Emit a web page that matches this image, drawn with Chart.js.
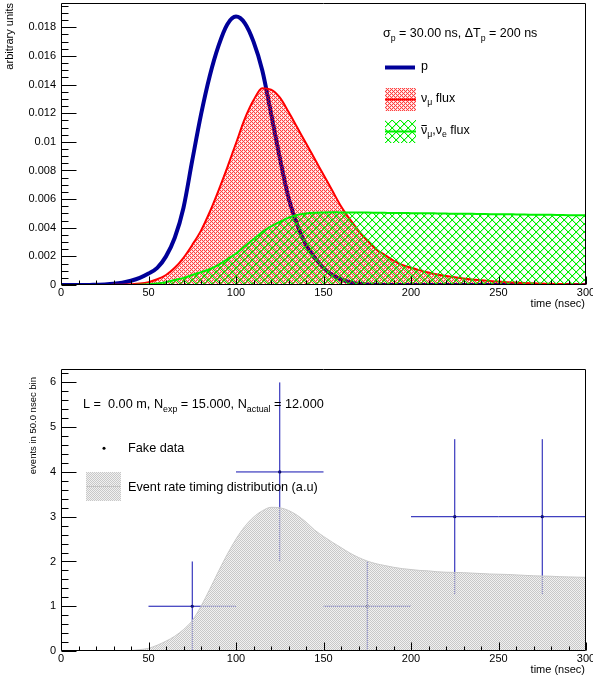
<!DOCTYPE html>
<html>
<head>
<meta charset="utf-8">
<script src="https://cdn.jsdelivr.net/npm/chart.js@4.4.1/dist/chart.umd.min.js"></script>
<style>
  html, body { margin: 0; padding: 0; background: #fff; }
  #wrap { position: relative; width: 593px; height: 680px; overflow: hidden; }
  .pane { position: absolute; left: 0; width: 593px; height: 340px; }
  #paneTop { top: 0; }
  #paneBottom { top: 340px; }
</style>
</head>
<body>
<div id="wrap">
  <div class="pane" id="paneTop"><canvas id="fluxChart" width="593" height="340"></canvas></div>
  <div class="pane" id="paneBottom"><canvas id="eventChart" width="593" height="340"></canvas></div>
</div>
<script>
// ---- time grid (ns) shared by all curves ----
const timeNs = [
  0, 5, 10, 15, 20, 25, 30, 35, 40, 45,
  50, 55, 60, 65, 70, 75, 80, 85, 90, 95,
  100, 105, 110, 115, 120, 125, 130, 135, 140, 145,
  150, 155, 160, 165, 170, 175, 180, 185, 190, 195,
  200, 205, 210, 215, 220, 225, 230, 235, 240, 245,
  250, 255, 260, 265, 270, 275, 280, 285, 290, 295,
  300
];

// proton pulse, arbitrary units
const protonFlux = [
  0, 0, 0, 0, 0.00002, 0.00004, 0.00008, 0.00016, 0.0003, 0.0005,
  0.0008, 0.0012, 0.0020, 0.0033, 0.0054, 0.0087, 0.0119, 0.0146, 0.0167, 0.0182,
  0.01875, 0.0183, 0.0170, 0.0150, 0.0120, 0.0089, 0.0061, 0.0042, 0.0028, 0.0019,
  0.0012, 0.0007, 0.0004, 0.0002, 0.00008, 0.00003, 0.00001, 0, 0, 0,
  0, 0, 0, 0, 0, 0, 0, 0, 0, 0,
  0, 0, 0, 0, 0, 0, 0, 0, 0, 0,
  0
];

// nu_mu flux
const numuFlux = [
  0, 0, 0, 0, 0, 0, 0.00001, 0.00002, 0.00005, 0.0001,
  0.0002, 0.0004, 0.0007, 0.0012, 0.0019, 0.0028, 0.0038, 0.0051, 0.0066, 0.0082,
  0.0099, 0.0116, 0.0129, 0.01375, 0.01365, 0.0131, 0.0121, 0.0110, 0.0099, 0.0088,
  0.0077, 0.0066, 0.0055, 0.0046, 0.0038, 0.0031, 0.0025, 0.0021, 0.0017, 0.0014,
  0.0012, 0.00103, 0.00087, 0.00074, 0.00063, 0.00054, 0.00046, 0.00039, 0.00033, 0.00028,
  0.00024, 0.0002, 0.00017, 0.00014, 0.00012, 0.0001, 0.00008, 0.00007, 0.00006, 0.00005,
  0.00004
];

// anti-nu_mu + nu_e flux
const nubarFlux = [
  0, 0, 0, 0, 0, 0, 0, 0, 0, 0.00002,
  0.00005, 0.0001, 0.0002, 0.00035, 0.0005, 0.0007, 0.0009, 0.0011, 0.0014, 0.0018,
  0.0022, 0.0027, 0.0032, 0.0037, 0.0041, 0.0044, 0.0047, 0.0049, 0.0050, 0.00505,
  0.00507, 0.00508, 0.00507, 0.00507, 0.00506, 0.00506, 0.00505, 0.00504, 0.00503, 0.00503,
  0.00502, 0.00501, 0.00501, 0.0050, 0.00499, 0.00498, 0.00498, 0.00497, 0.00496, 0.00495,
  0.00494, 0.00494, 0.00493, 0.00492, 0.00491, 0.0049, 0.0049, 0.00489, 0.00488, 0.00488,
  0.00487
];

// expected event rate per 50 ns bin (a.u.)
const eventRate = [
  0, 0, 0, 0, 0, 0, 0, 0, 0.01, 0.03,
  0.06, 0.13, 0.22, 0.33, 0.48, 0.68, 1.0, 1.38, 1.78, 2.16,
  2.5, 2.78, 2.99, 3.13, 3.21, 3.2, 3.14, 3.03, 2.88, 2.7,
  2.56, 2.43, 2.31, 2.19, 2.09, 2.01, 1.95, 1.91, 1.87, 1.84,
  1.82, 1.8, 1.79, 1.77, 1.76, 1.755, 1.75, 1.74, 1.73, 1.72,
  1.715, 1.71, 1.7, 1.69, 1.68, 1.675, 1.67, 1.66, 1.655, 1.65,
  1.645
];

// fake data, 50 ns bins
const binCenters   = [75, 125, 175, 225, 275];
const binHalfWidth = [25, 25, 25, 25, 25];
const eventCounts  = [1, 4, 1, 3, 3];
const countErrors  = [1, 2, 1, 1.732, 1.732];

const expectedEvents = 15;
const baselineM = 0;

// tick layout
const fluxTicks  = { xMinor: 10, xPerMajor: 5, yMinor: 0.0005, yPerMajor: 4 };
const eventTicks = { xMinor: 10, xPerMajor: 5, yMinor: 0.2, yPerMajor: 5 };

// -------------------------------------------------------------
const FONT = '"Liberation Sans", Arial, Helvetica, sans-serif';

function toXY(xs, ys) { return xs.map((x, i) => ({ x, y: ys[i] })); }

function tilePattern(size, paint) {
  const tile = document.createElement('canvas');
  tile.width = size; tile.height = size;
  const g = tile.getContext('2d');
  const img = g.createImageData(size, size);
  for (let y = 0; y < size; y++) {
    for (let x = 0; x < size; x++) {
      const c = paint(x, y);
      if (!c) continue;
      const i = (y * size + x) * 4;
      img.data[i] = c[0]; img.data[i + 1] = c[1]; img.data[i + 2] = c[2]; img.data[i + 3] = c[3];
    }
  }
  g.putImageData(img, 0, 0);
  return g.createPattern(tile, 'repeat');
}

// dense red dither with small white holes
const redHatch = tilePattern(4, (x, y) => {
  if ((x === 1 && y === 1) || (x === 3 && y === 3)) return null;
  return (x + y) % 2 === 0 ? [255, 0, 0, 190] : [255, 0, 0, 45];
});
// diagonal cross-hatch, slightly softened edges
const greenHatch = tilePattern(8, (x, y) => {
  if (x === y || x === 7 - y) return [0, 240, 0, 255];
  if (x === (y + 1) % 8 || x === (8 - y) % 8) return [0, 230, 0, 70];
  return null;
});
// light grey dither
const greyHatch = tilePattern(2, (x, y) => ((x + y) % 2 === 0 ? [200, 200, 200, 255] : [225, 225, 225, 120]));

// text with sub-scripts and over-bars drawn along one baseline
function richText(ctx, x, y, parts, size, color) {
  let cx = x;
  ctx.fillStyle = color || '#000';
  ctx.textAlign = 'left';
  ctx.textBaseline = 'alphabetic';
  for (const p of parts) {
    const s = p.sub ? size * 0.7 : size;
    ctx.font = s + 'px ' + FONT;
    const dy = p.sub ? size * 0.3 : 0;
    ctx.fillText(p.t, cx, y + dy);
    const w = ctx.measureText(p.t).width;
    if (p.bar) {
      ctx.save();
      ctx.strokeStyle = color || '#000';
      ctx.lineWidth = 1;
      ctx.beginPath();
      const by = Math.round(y - size * 0.7) + 0.5;
      ctx.moveTo(cx + 0.5, by); ctx.lineTo(cx + w - 0.5, by);
      ctx.stroke();
      ctx.restore();
    }
    cx += w;
  }
  return cx;
}

function drawFrameAndTicks(chart, t, lens) {
  const { ctx, chartArea: a } = chart;
  const xs = chart.scales.x, ys = chart.scales.y;
  ctx.save();
  ctx.strokeStyle = '#000';
  ctx.lineWidth = 1;
  const L = Math.round(a.left) + 0.5, R = Math.round(a.right) - 0.5;
  const T = Math.round(a.top) + 0.5, B = Math.round(a.bottom) - 0.5;
  ctx.beginPath();
  ctx.rect(L, T, R - L, B - T);
  ctx.stroke();
  ctx.beginPath();
  const nx = Math.round((xs.max - xs.min) / t.xMinor);
  for (let i = 0; i <= nx; i++) {
    const px = Math.round(xs.getPixelForValue(xs.min + i * t.xMinor)) + 0.5;
    const len = i % t.xPerMajor === 0 ? lens.xMajor : lens.xMinor;
    ctx.moveTo(px, B); ctx.lineTo(px, B - len);
  }
  const ny = Math.floor((ys.max - ys.min) / t.yMinor + 1e-6);
  for (let i = 0; i <= ny; i++) {
    const py = Math.round(ys.getPixelForValue(ys.min + i * t.yMinor)) + 0.5;
    const len = i % t.yPerMajor === 0 ? lens.yMajor : lens.yMinor;
    ctx.moveTo(L, py); ctx.lineTo(L + len, py);
  }
  ctx.stroke();
  ctx.restore();
}

function axisTitles(chart, yTitle, ySize, yX, yEnd, xBase) {
  const { ctx, chartArea: a } = chart;
  ctx.save();
  ctx.fillStyle = '#000';
  ctx.font = ySize + 'px ' + FONT;
  ctx.translate(yX, yEnd);
  ctx.rotate(-Math.PI / 2);
  ctx.textAlign = 'right';
  ctx.textBaseline = 'middle';
  ctx.fillText(yTitle, 0, 0);
  ctx.restore();
  ctx.save();
  ctx.fillStyle = '#000';
  ctx.font = '11px ' + FONT;
  ctx.textAlign = 'right';
  ctx.textBaseline = 'alphabetic';
  ctx.fillText('time (nsec)', a.right - 1, xBase);
  ctx.restore();
}

function baseScales(yMax, yStep, fmt, xHeight) {
  return {
    x: {
      type: 'linear', min: 0, max: 300,
      grid: { display: false, drawTicks: false },
      border: { display: false },
      ticks: { stepSize: 50, includeBounds: false, autoSkip: false, maxRotation: 0, padding: 1,
               color: '#000', font: { family: FONT, size: 11 } },
      afterFit(s) { s.height = xHeight; s.paddingLeft = 0; s.paddingRight = 0; }
    },
    y: {
      type: 'linear', min: 0, max: yMax,
      grid: { display: false, drawTicks: false },
      border: { display: false },
      ticks: { stepSize: yStep, includeBounds: false, autoSkip: false, padding: 5,
               color: '#000', font: { family: FONT, size: 11 }, callback: fmt },
      afterFit(s) { s.width = 61; s.paddingTop = 0; s.paddingBottom = 0; }
    }
  };
}

// ---------------- neutrino flux panel ----------------
const fluxDecor = {
  id: 'fluxDecor',
  afterDraw(chart) {
    const ctx = chart.ctx;
    drawFrameAndTicks(chart, fluxTicks, { xMajor: 8, xMinor: 4, yMajor: 15, yMinor: 7 });
    axisTitles(chart, 'arbitrary units', 11, 10, 3, 307);

    const size = 12.5;
    richText(ctx, 383, 37, [
      { t: 'σ' }, { t: 'p', sub: true }, { t: ' = 30.00 ns, ΔT' }, { t: 'p', sub: true }, { t: ' = 200 ns' }
    ], size);

    ctx.save();
    ctx.strokeStyle = '#000099'; ctx.lineWidth = 4;
    ctx.beginPath(); ctx.moveTo(385, 67.5); ctx.lineTo(415, 67.5); ctx.stroke();
    ctx.restore();
    richText(ctx, 421, 70, [{ t: 'p' }], size);

    ctx.save();
    ctx.fillStyle = redHatch; ctx.fillRect(385, 88, 31, 23);
    ctx.strokeStyle = '#ff0000'; ctx.lineWidth = 2;
    ctx.beginPath(); ctx.moveTo(385, 99.5); ctx.lineTo(416, 99.5); ctx.stroke();
    ctx.restore();
    richText(ctx, 421, 101.5, [{ t: 'ν' }, { t: 'μ', sub: true }, { t: ' flux' }], size);

    ctx.save();
    ctx.fillStyle = greenHatch; ctx.fillRect(385, 120, 31, 23);
    ctx.strokeStyle = '#00f000'; ctx.lineWidth = 2;
    ctx.beginPath(); ctx.moveTo(385, 131.5); ctx.lineTo(416, 131.5); ctx.stroke();
    ctx.restore();
    richText(ctx, 421, 133.5, [
      { t: 'ν', bar: true }, { t: 'μ', sub: true }, { t: ',ν' }, { t: 'e', sub: true }, { t: ' flux' }
    ], size);
  }
};

new Chart(document.getElementById('fluxChart'), {
  type: 'line',
  data: {
    datasets: [
      { label: 'p', data: toXY(timeNs, protonFlux), borderColor: '#000099', borderWidth: 4,
        pointRadius: 0, fill: false, cubicInterpolationMode: 'monotone', order: 3 },
      { label: 'numu', data: toXY(timeNs, numuFlux), borderColor: '#ff0000', borderWidth: 2,
        backgroundColor: redHatch, fill: 'origin', pointRadius: 0,
        cubicInterpolationMode: 'monotone', order: 2 },
      { label: 'nubar', data: toXY(timeNs, nubarFlux), borderColor: '#00f000', borderWidth: 2,
        backgroundColor: greenHatch, fill: 'origin', pointRadius: 0,
        cubicInterpolationMode: 'monotone', order: 1 }
    ]
  },
  options: {
    responsive: false, animation: false, events: [],
    layout: { padding: { top: 3, right: 7, bottom: 0, left: 0 } },
    plugins: { legend: { display: false }, tooltip: { enabled: false } },
    scales: baseScales(0.0197, 0.002, v => String(+v.toFixed(4)), 55)
  },
  plugins: [fluxDecor]
});

// ---------------- event timing panel ----------------
const errorSegments = [];
binCenters.forEach((c, i) => {
  errorSegments.push({ x: c - binHalfWidth[i], y: eventCounts[i] });
  errorSegments.push({ x: c + binHalfWidth[i], y: eventCounts[i] });
  errorSegments.push({ x: c + binHalfWidth[i], y: null });
  errorSegments.push({ x: c, y: eventCounts[i] - countErrors[i] });
  errorSegments.push({ x: c, y: eventCounts[i] + countErrors[i] });
  errorSegments.push({ x: c, y: null });
});
const nActual = eventCounts.reduce((s, v) => s + v, 0);

const eventDecor = {
  id: 'eventDecor',
  afterDraw(chart) {
    const ctx = chart.ctx;
    drawFrameAndTicks(chart, eventTicks, { xMajor: 8, xMinor: 4, yMajor: 15, yMinor: 7 });
    axisTitles(chart, 'events in 50.0 nsec bin', 9.5, 33, 37, 333);

    const size = 12.7;
    richText(ctx, 83, 68, [
      { t: 'L =  ' + baselineM.toFixed(2) + ' m, N' }, { t: 'exp', sub: true },
      { t: ' = ' + expectedEvents.toFixed(3) + ', N' }, { t: 'actual', sub: true },
      { t: ' = ' + nActual.toFixed(3) }
    ], size);

    ctx.save();
    ctx.fillStyle = '#000';
    ctx.beginPath(); ctx.arc(104, 108.3, 1.5, 0, Math.PI * 2); ctx.fill();
    ctx.restore();
    richText(ctx, 128, 112, [{ t: 'Fake data' }], size);

    ctx.save();
    ctx.fillStyle = greyHatch; ctx.fillRect(86, 132, 35, 29);
    ctx.strokeStyle = '#c4c4c4'; ctx.lineWidth = 1;
    ctx.beginPath(); ctx.moveTo(86, 146.5); ctx.lineTo(121, 146.5); ctx.stroke();
    ctx.restore();
    richText(ctx, 128, 151, [{ t: 'Event rate timing distribution (a.u)' }], size);
  }
};

new Chart(document.getElementById('eventChart'), {
  type: 'line',
  data: {
    datasets: [
      { label: 'rate', data: toXY(timeNs, eventRate), borderColor: '#c8c8c8', borderWidth: 1,
        backgroundColor: greyHatch, fill: 'origin', pointRadius: 0,
        cubicInterpolationMode: 'monotone', order: 1 },
      { label: 'errors', data: errorSegments, borderColor: '#1010b0', borderWidth: 1,
        pointRadius: 0, fill: false, spanGaps: false, tension: 0, order: 2 },
      { label: 'data', data: toXY(binCenters, eventCounts), showLine: false,
        pointRadius: 1.6, pointBackgroundColor: '#000', pointBorderWidth: 0, order: 2 }
    ]
  },
  options: {
    responsive: false, animation: false, events: [],
    layout: { padding: { top: 29, right: 7, bottom: 0, left: 0 } },
    plugins: { legend: { display: false }, tooltip: { enabled: false } },
    scales: baseScales(6.3, 1, v => String(v), 29)
  },
  plugins: [eventDecor]
});
</script>
</body>
</html>
